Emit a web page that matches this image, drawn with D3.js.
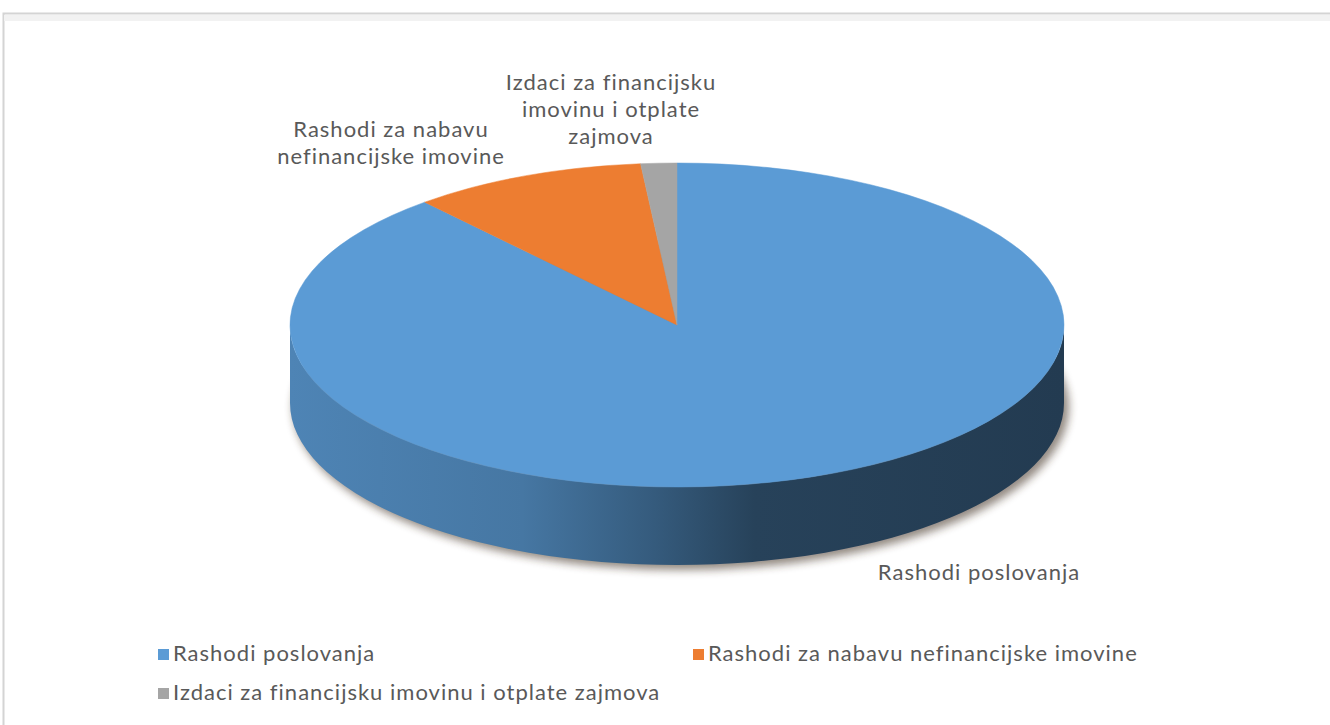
<!DOCTYPE html>
<meta charset='utf-8'>
<style>
    html, body {
        margin: 0;
        background: white;
    }

    .label, .legend text {
        fill: #595959;
        font-family: Lato, 'Open Sans', sans-serif;
        font-size: 22px;
        letter-spacing: 1px;
    }
</style>
<title>Rashodi</title>
<body>

<script src='https://d3js.org/d3.v7.min.js'></script>
<script>

	// data
	let categories = ['Rashodi poslovanja', 'Rashodi za nabavu nefinancijske imovine', 'Izdaci za financijsku imovinu i otplate zajmova'];
	let shares = [88.7, 9.8, 1.5];
	let colors = ['#5B9BD5', '#ED7D31', '#A5A5A5'];
	let labelLines = [
		['Rashodi poslovanja'],
		['Rashodi za nabavu', 'nefinancijske imovine'],
		['Izdaci za financijsku', 'imovinu i otplate', 'zajmova']
	];

	let width = 1330, height = 725;
	let cx = 677, cy = 325, rx = 387, ry = 162, depth = 78;

	// where excel dropped the data labels (center x, first baseline)
	let labelPos = [[979, 580], [391, 137], [611, 90]];

	let svg = d3.select('body').append('svg')
		.attr('width', width)
		.attr('height', height);

	let defs = svg.append('defs');

	// chart frame
	svg.append('rect')
		.attr('x', 3.5)
		.attr('y', 13.5)
		.attr('width', 1400)
		.attr('height', 800)
		.attr('fill', 'none')
		.attr('stroke', '#d4d4d4')
		.attr('stroke-width', 2);
	svg.append('rect')
		.attr('x', 4)
		.attr('y', 15)
		.attr('width', 1400)
		.attr('height', 6)
		.attr('fill', '#f2f2f2');

	let pie = d3.pie().sort(null).value(function (d) { return d; });
	let arcs = pie(shares);

	function px(a) { return cx + rx * Math.sin(a); }
	function py(a, dy) { return cy - ry * Math.cos(a) + (dy || 0); }

	let shadow = defs.append('filter')
		.attr('id', 'shadow')
		.attr('x', '-20%').attr('y', '-20%')
		.attr('width', '140%').attr('height', '140%');
	shadow.append('feGaussianBlur').attr('stdDeviation', 4);

	// soft shadow under the base
	svg.append('ellipse')
		.attr('cx', cx + 4)
		.attr('cy', cy + depth + 4)
		.attr('rx', rx + 1)
		.attr('ry', ry + 1)
		.attr('fill', '#3a2a1a')
		.attr('opacity', 0.55)
		.attr('filter', 'url(#shadow)');

	// side walls (front half only)
	arcs.forEach(function (d, i) {
		let s = Math.max(d.startAngle, Math.PI / 2);
		let e = Math.min(d.endAngle, 3 * Math.PI / 2);
		if (e <= s) return;

		let c = d3.color(colors[i]);
		let g = defs.append('linearGradient')
			.attr('id', 'side' + i)
			.attr('gradientUnits', 'userSpaceOnUse')
			.attr('x1', cx - rx).attr('x2', cx + rx)
			.attr('y1', 0).attr('y2', 0);
		[[0, 0.45], [0.3, 0.75], [0.47, 1.5], [0.6, 2.4], [1, 2.7]].forEach(function (st) {
			g.append('stop')
				.attr('offset', st[0])
				.attr('stop-color', c.darker(st[1]));
		});

		let large = (e - s) > Math.PI ? 1 : 0;
		let p = 'M' + px(s) + ',' + py(s) +
			'A' + rx + ',' + ry + ' 0 ' + large + ' 1 ' + px(e) + ',' + py(e) +
			'L' + px(e) + ',' + py(e, depth) +
			'A' + rx + ',' + ry + ' 0 ' + large + ' 0 ' + px(s) + ',' + py(s, depth) + 'Z';
		svg.append('path')
			.attr('d', p)
			.attr('fill', 'url(#side' + i + ')');
	});

	// top face
	svg.selectAll('.slice')
		.data(arcs)
		.enter().append('path')
		.attr('class', 'slice')
		.attr('d', function (d) {
			let large = (d.endAngle - d.startAngle) > Math.PI ? 1 : 0;
			return 'M' + cx + ',' + cy +
				'L' + px(d.startAngle) + ',' + py(d.startAngle) +
				'A' + rx + ',' + ry + ' 0 ' + large + ' 1 ' + px(d.endAngle) + ',' + py(d.endAngle) + 'Z';
		})
		.attr('fill', function (d, i) { return colors[i]; })
		.attr('stroke', function (d, i) { return colors[i]; })
		.attr('stroke-width', 0.5);

	// data labels, one text per line
	labelLines.forEach(function (lines, i) {
		lines.forEach(function (l, j) {
			svg.append('text')
				.attr('class', 'label')
				.attr('text-anchor', 'middle')
				.attr('x', labelPos[i][0])
				.attr('y', labelPos[i][1] + j * 27)
				.text(l);
		});
	});

	// legend
	let legendPos = [[158, 661], [693, 661], [158, 700]];
	let legend = svg.selectAll('.legend')
		.data(categories)
		.enter().append('g')
		.attr('class', 'legend')
		.attr('transform', function (d, i) {
			return 'translate(' + legendPos[i][0] + ',' + legendPos[i][1] + ')';
		});
	legend.append('rect')
		.attr('x', 0)
		.attr('y', -12)
		.attr('width', 11)
		.attr('height', 11)
		.attr('fill', function (d, i) { return colors[i]; });
	legend.append('text')
		.attr('x', 15)
		.attr('y', 0)
		.text(function (d) { return d; });

</script>
</body>
